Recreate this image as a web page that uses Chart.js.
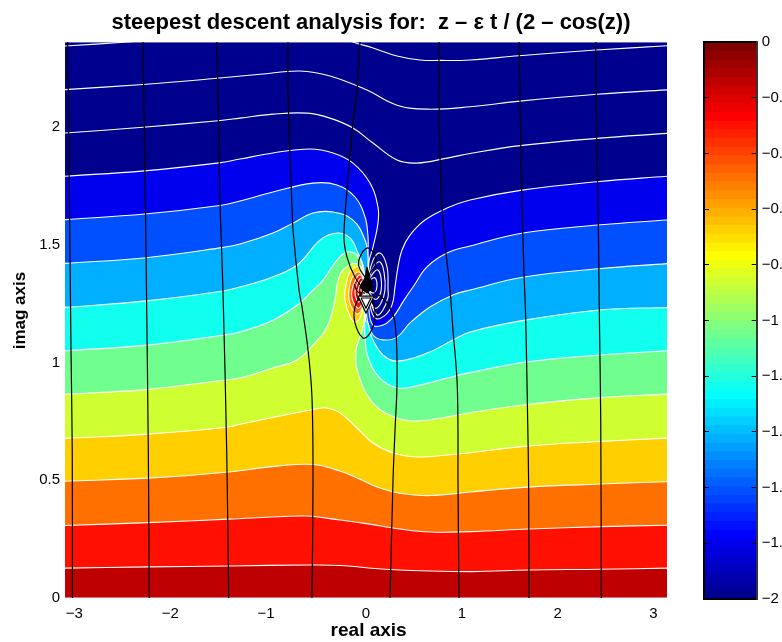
<!DOCTYPE html>
<html><head><meta charset="utf-8">
<style>html,body{margin:0;padding:0;background:#fff;width:782px;height:642px;overflow:hidden}
canvas{position:absolute;top:0}</style>
<script src="https://cdn.jsdelivr.net/npm/chart.js@4"></script>
</head><body>
<canvas id="main" width="742" height="642" style="left:0"></canvas>
<canvas id="bar" width="92" height="642" style="left:690px"></canvas>
<script>
const xMin=-3.1416, xMax=3.1416, yMin=0, yMax=2.3612;
const titleText='steepest descent analysis for:  z \u2013 \u03b5 t / (2 \u2013 cos(z))';
const xLabel=' real axis', yLabel='    imag axis';
const xTicks=[-3,-2,-1,0,1,2,3];
const xTickLabels=['\u22123  ','\u22122  ','\u22121  ','0','1','2','3'];
const yTicks=[0,0.5,1,1.5,2];
const yTickLabels=['0','0.5','1','1.5','2'];
const cbTicks=[0,-0.2,-0.4,-0.6,-0.8,-1,-1.2,-1.4,-1.6,-1.8,-2];
const cbTickLabels=['0','\u22120.2','\u22120.4','\u22120.6','\u22120.8','\u22121','\u22121.2','\u22121.4','\u22121.6','\u22121.8','\u22122'];

// colour bar, bottom to top
const jet=['#00008F','#00009F','#0000AF','#0000BF','#0000CF','#0000DF','#0000EF','#0000FF',
'#0010FF','#0020FF','#0030FF','#0040FF','#0050FF','#0060FF','#0070FF','#0080FF','#008FFF','#009FFF','#00AFFF','#00BFFF','#00CFFF','#00DFFF','#00EFFF','#00FFFF',
'#10FFEF','#20FFDF','#30FFCF','#40FFBF','#50FFAF','#60FF9F','#70FF8F','#80FF80','#8FFF70','#9FFF60','#AFFF50','#BFFF40','#CFFF30','#DFFF20','#EFFF10','#FFFF00',
'#FFEF00','#FFDF00','#FFCF00','#FFBF00','#FFAF00','#FF9F00','#FF8F00','#FF8000','#FF7000','#FF6000','#FF5000','#FF4000','#FF3000','#FF2000','#FF1000','#FF0000',
'#EF0000','#DF0000','#CF0000','#BF0000','#AF0000','#9F0000','#8F0000','#800000'];
const cbStep=0.03125;

// white level curves, bottom to top
const c0x=[-3.1416,3.1416], c0y=[0,0];
const c1x=[-3.1416,-2.276,-1.44,-.585,-.271,.251,1.086,1.701,2.453,3.1416];
const c1y=[.127,.132,.136,.140,.138,.121,.112,.119,.122,.127];
const c2x=[-3.1416,-2.276,-1.44,-.689,-.564,-.271,0,.355,.668,1.086,1.701,2.453,3.1416];
const c2y=[.308,.320,.335,.348,.347,.331,.316,.293,.280,.282,.293,.303,.309];
const c3x=[-3.1416,-2.276,-1.461,-.929,-.553,-.271,-.063,.146,.355,.668,1.086,1.691,2.453,3.1416];
const c3y=[.496,.509,.534,.560,.567,.539,.504,.467,.445,.435,.450,.471,.484,.494];
const c4x=[-3.1416,-2.276,-1.453,-1.315,-.480,-.397,-.271,-.094,.073,.282,.532,.846,1.086,1.681,2.453,3.1416];
const c4y=[.678,.696,.725,.738,.806,.806,.786,.722,.658,.616,.599,.607,.617,.645,.665,.679];
const c5x=[-3.1416,-2.276,-1.465,-1.315,-.971,-.720,-.553,-.407,-.324,-.292,-.240,-.146,-.084,-.031,-.010,-.021,-.063,-.104,-.084,.073,.324,.532,.846,1.086,1.681,2.450,3.1416];
const c5y=[.865,.886,.926,.934,.977,1.011,1.074,1.151,1.265,1.350,1.393,1.418,1.418,1.384,1.265,1.168,1.108,1.053,.955,.828,.764,.752,.769,.787,.822,.851,.866];
const c6x=[-3.1416,-2.283,-1.479,-1.315,-.971,-.689,-.553,-.449,-.303,-.198,-.094,-.031,-.016,-.015,-.010,.021,.146,.334,.564,.846,1.086,1.670,2.443,3.1416];
const c6y=[1.050,1.074,1.117,1.130,1.180,1.253,1.308,1.350,1.435,1.469,1.456,1.401,1.265,1.180,1.108,1.023,.934,.892,.904,.934,.957,1.002,1.032,1.050];
const c7x=[-3.1416,-2.290,-1.493,-1.315,-1.002,-.720,-.480,-.303,-.167,-.084,-.026,0,-.005,.021,.063,.177,.324,.637,.908,1.086,1.660,2.432,3.1416];
const c7y=[1.234,1.262,1.304,1.321,1.359,1.414,1.520,1.550,1.529,1.465,1.406,1.265,1.180,1.168,1.104,1.032,1.006,1.040,1.096,1.130,1.180,1.223,1.234];
const c8x=[-3.1416,-2.296,-1.505,-1.315,-.971,-.762,-.553,-.344,-.136,-.010,.021,.010,.010,.010,.073,.177,.324,.459,.668,.908,1.086,1.650,2.432,3.1416];
const c8y=[1.421,1.445,1.488,1.503,1.550,1.592,1.635,1.639,1.605,1.520,1.448,1.329,1.265,1.189,1.117,1.096,1.108,1.168,1.236,1.287,1.308,1.363,1.398,1.420];
const c9x=[-3.1416,-2.307,-1.524,-1.315,-.971,-.553,-.303,-.115,-.010,.021,.021,.021,.031,.073,.177,.282,.397,.491,.637,.846,1.086,1.639,2.422,3.1416];
const c9y=[1.607,1.631,1.667,1.686,1.724,1.762,1.754,1.703,1.618,1.533,1.465,1.329,1.223,1.159,1.159,1.193,1.265,1.321,1.406,1.465,1.495,1.550,1.584,1.605];
const c10x=[-3.1416,-2.317,-1.534,-1.315,-.971,-.585,-.344,-.136,.042,.125,.125,.073,.031,.031,.042,.094,.188,.271,.303,.334,.376,.459,.616,.846,1.086,1.628,2.411,3.1416];
const c10y=[1.791,1.814,1.848,1.864,1.890,1.907,1.890,1.847,1.762,1.660,1.592,1.490,1.427,1.329,1.244,1.189,1.197,1.244,1.321,1.406,1.478,1.541,1.605,1.656,1.690,1.732,1.768,1.791];
const c11x=[-3.1416,-2.328,-1.545,-1.315,-.971,-.616,-.376,-.136,.073,.324,.532,.846,1.086,1.608,2.411,3.1416];
const c11y=[1.975,1.999,2.027,2.038,2.055,2.059,2.038,1.996,1.932,1.860,1.847,1.868,1.888,1.921,1.952,1.973];
const c12x=[-3.1416,-2.328,-1.555,-1.106,-.689,-.376,.010,.324,.637,1.086,1.608,2.411,3.1416];
const c12y=[2.159,2.181,2.207,2.224,2.238,2.217,2.157,2.093,2.076,2.086,2.110,2.139,2.158];
const c13x=[-3.1416,-2.495,-1.315,-.689,-.271,-.136,.073,.324,.564,.772,1.086,1.597,2.401,3.1416];
const c13y=[2.344,2.361,2.395,2.405,2.385,2.361,2.336,2.302,2.285,2.283,2.285,2.303,2.327,2.345];
const c14x=[-3.1416,3.1416], c14y=[2.3612,2.3612];
const bandColors=['#BF0000','#FF1000','#FF7000','#FFCF00','#CFFF30','#70FF8F','#10FFEF','#00AFFF','#0050FF','#0000EF','#00008F'];

// closed level curves left and right of the pole
const w1x=[0,-.084,-.167,-.209,-.219,-.167,-.104,-.042,0], w1y=[1.338,1.406,1.384,1.329,1.265,1.197,1.172,1.214,1.338];
const w2x=[0,-.073,-.146,-.177,-.177,-.136,-.084,-.031,0], w2y=[1.338,1.384,1.359,1.308,1.265,1.223,1.206,1.244,1.338];
const w3x=[0,-.063,-.115,-.146,-.146,-.115,-.073,-.031,0], w3y=[1.338,1.372,1.346,1.308,1.274,1.244,1.231,1.265,1.338];
const w4x=[0,-.052,-.094,-.115,-.104,-.073,-.031,0], w4y=[1.338,1.359,1.333,1.304,1.274,1.257,1.282,1.338];
const w5x=[0,-.042,-.073,-.084,-.063,-.021,0], w5y=[1.338,1.346,1.321,1.299,1.278,1.295,1.338];
const w6x=[0,-.031,-.052,-.031,0], w6y=[1.333,1.329,1.308,1.295,1.333];
const ringColors=['#FFCF00','#FF7000','#FF1000','#BF0000','#BF0000','#BF0000'];
const n1x=[.010,.073,.146,.219,.230,.230,.177,.115,.042,.010], n1y=[1.338,1.435,1.465,1.406,1.308,1.278,1.223,1.202,1.265,1.338];
const n2x=[.010,.084,.146,.188,.198,.157,.094,.031,.010], n2y=[1.338,1.410,1.427,1.384,1.308,1.253,1.231,1.274,1.338];
const n3x=[.010,.084,.125,.157,.157,.115,.063,.010], n3y=[1.338,1.384,1.393,1.359,1.304,1.270,1.278,1.338];
const n4x=[.010,.073,.104,.115,.094,.052,.010], n4y=[1.338,1.359,1.355,1.325,1.299,1.299,1.338];

// black steepest descent paths
const by=[2.3612,1.609,1.053,.628,0];
const b1x=[-3.114,-3.093,-3.079,-3.066,-3.064];
const b2x=[-2.328,-2.300,-2.290,-2.272,-2.262], b2y=[2.3612,1.609,1.265,.628,0];
const b3x=[-1.555,-1.524,-1.493,-1.454,-1.433], b3y=[2.3612,1.690,1.308,.628,0];
const b4x=[-.814,-.814,-.793,-.772,-.762,-.699,-.668,-.605,-.564,-.553,-.564];
const b4y=[2.3612,2.157,1.873,1.660,1.563,1.308,1.236,1.053,.854,.501,0];
const b5x=[-.063,-.094,-.136,-.198,-.230,-.198,-.115,-.010,.073,.219,.303,.324,.303,.282,.251];
const b5y=[2.3612,2.157,2.017,1.732,1.533,1.448,1.363,1.308,1.304,1.253,1.168,.926,.713,.501,0];
const b6x=[.762,.762,.772,.804,.877,.908,.950,.960,.960,.971];
const b6y=[2.3612,2.157,1.873,1.592,1.308,1.138,.926,.713,.501,0];
const b7x=[1.597,1.608,1.625,1.649,1.667,1.684,1.698,1.701];
const b7y=[2.3612,2.110,1.732,1.380,1.185,.828,.471,0];
const b8x=[2.398,2.408,2.425,2.435,2.450,2.456];
const b8y=[2.3612,1.953,1.584,1.219,.756,0];
const e1x=[.010,-.073,-.063,.010,.073,.104,.042,.010], e1y=[1.350,1.406,1.448,1.486,1.469,1.422,1.380,1.350];
const e2x=[-.031,-.115,-.115,-.031,.042,.094,.073,.021,-.031], e2y=[1.308,1.236,1.168,1.104,1.125,1.193,1.257,1.299,1.308];
const legx=[-.125,-.084,-.010], legy=[1.333,1.299,1.295];
const blobx=[.010,.042,.073,.010,-.063,-.010,.010], bloby=[1.406,1.359,1.320,1.295,1.320,1.359,1.406];
const v1x=[-.084,.084,0,-.084], v1y=[1.282,1.282,1.210,1.282];
const v2x=[-.052,.052,0,-.052], v2y=[1.274,1.274,1.231,1.274];

const pts=(xs,ys)=>xs.map((x,i)=>({x,y:ys[i]}));
const base={showLine:true,pointRadius:0,pointHoverRadius:0};
const black=(xs,ys,extra)=>Object.assign({},base,{data:pts(xs,ys),borderColor:'#000',borderWidth:1.2,tension:0.35,fill:false},extra||{});
const white=(xs,ys,extra)=>Object.assign({},base,{data:pts(xs,ys),borderColor:'#fff',borderWidth:1.1,tension:0.4,fill:false},extra||{});
const band=(xs,ys,i)=>white(xs,ys,{fill:'start',backgroundColor:bandColors[i]});
const ring=(xs,ys,i)=>white(xs,ys,{fill:'shape',backgroundColor:ringColors[i]});

const datasets=[
 black(blobx,bloby,{fill:'shape',backgroundColor:'#000',tension:0}),
 black(v2x,v2y,{tension:0}),
 black(v1x,v1y,{fill:'shape',backgroundColor:'#fff',tension:0}),
 black(legx,legy),
 black(e1x,e1y),black(e2x,e2y),
 black(b1x,by),black(b2x,b2y),black(b3x,b3y),black(b4x,b4y),black(b5x,b5y),black(b6x,b6y),black(b7x,b7y),black(b8x,b8y),
 ring(w6x,w6y,5),ring(w5x,w5y,4),ring(w4x,w4y,3),ring(w3x,w3y,2),ring(w2x,w2y,1),ring(w1x,w1y,0),
 white(n4x,n4y),white(n3x,n3y),white(n2x,n2y),white(n1x,n1y),
 white(c0x,c0y,{borderColor:'#e8e8f0'}),
 band(c1x,c1y,0),band(c2x,c2y,1),band(c3x,c3y,2),band(c4x,c4y,3),band(c5x,c5y,4),band(c6x,c6y,5),
 band(c7x,c7y,6),band(c8x,c8y,7),band(c9x,c9y,8),band(c10x,c10y,9),
 white(c11x,c11y),white(c12x,c12y),white(c13x,c13y),
 white(c14x,c14y,{fill:'start',backgroundColor:bandColors[10],borderColor:'#d8d8ec'})
];
const FONT='"Liberation Sans", Arial, sans-serif';
new Chart(document.getElementById('main'),{
 type:'scatter',
 data:{datasets},
 options:{
  responsive:false,animation:false,devicePixelRatio:1,
  layout:{padding:0},
  plugins:{
   legend:{display:false},tooltip:{enabled:false},
   filler:{drawTime:'beforeDatasetDraw',propagate:false},
   title:{display:true,text:titleText,color:'#000',font:{family:FONT,size:22,weight:'bold',lineHeight:1.2},padding:{top:10,bottom:5.6}}
  },
  scales:{
   x:{type:'linear',min:xMin,max:xMax,grid:{display:false,drawTicks:false},border:{display:false},
      afterBuildTicks:s=>{s.ticks=xTicks.map(value=>({value}));},
      afterFit:s=>{s.height=44;},
      ticks:{autoSkip:false,maxRotation:0,minRotation:0,padding:7,color:'#000',font:{family:FONT,size:15},
        callback:(v)=>xTickLabels[xTicks.indexOf(v)]},
      title:{display:true,text:xLabel,color:'#000',font:{family:FONT,size:19,weight:'bold',lineHeight:1.2},padding:{top:0,bottom:0}}},
   y:{type:'linear',min:yMin,max:yMax,grid:{display:false,drawTicks:false},border:{display:false},
      afterBuildTicks:s=>{s.ticks=yTicks.map(value=>({value}));},
      afterFit:s=>{s.width=65;},
      ticks:{autoSkip:false,padding:5,color:'#000',font:{family:FONT,size:15},
        callback:(v)=>yTickLabels[yTicks.indexOf(v)]},
      title:{display:true,text:yLabel,color:'#000',font:{family:FONT,size:17,weight:'bold',lineHeight:1.2},padding:{top:10,bottom:0}}},
   yRightSpacer:{type:'linear',position:'right',min:yMin,max:yMax,grid:{display:false,drawTicks:false},border:{display:false},
      ticks:{display:false},afterFit:s=>{s.width=75;}}
  }
 }
});

// colour bar: each bar reaches from the top of the scale down to its band's lower edge
const n=jet.length;
const barSets=[];
for(let k=0;k<n;k++){
  barSets.push({data:[[0,-(k+1)*cbStep]],backgroundColor:jet[n-1-k],borderWidth:0,barPercentage:1,categoryPercentage:1,grouped:false,xAxisID:'x',yAxisID:'yr'});
}
const edge={color:'#000',width:2};
new Chart(document.getElementById('bar'),{
 type:'bar',
 data:{labels:['c'],datasets:barSets},
 options:{
  responsive:false,animation:false,devicePixelRatio:1,
  layout:{padding:{top:42,bottom:43,left:0,right:0}},
  plugins:{legend:{display:false},tooltip:{enabled:false}},
  datasets:{bar:{grouped:false}},
  scales:{
   x:{type:'category',position:'bottom',grid:{display:false,drawTicks:false},border:{color:'#000',width:2,z:3},ticks:{display:false},afterFit:s=>{s.height=0;}},
   xt:{type:'category',position:'top',labels:['c'],grid:{display:false,drawTicks:false},border:{color:'#000',width:2,z:3},ticks:{display:false},afterFit:s=>{s.height=0;}},
   yl:{type:'linear',position:'left',min:-2,max:0,border:{color:'#000',width:2,z:3},
      grid:{drawOnChartArea:false,tickLength:-5,color:'#000',tickWidth:1,z:2},
      afterBuildTicks:s=>{s.ticks=cbTicks.map(value=>({value}));},
      afterFit:s=>{s.width=14;},ticks:{display:false}},
   yr:{type:'linear',position:'right',min:-2,max:0,border:{color:'#333',width:2,z:3},
      grid:{drawOnChartArea:false,tickLength:-5,color:'#000',tickWidth:1,z:2},
      afterBuildTicks:s=>{s.ticks=cbTicks.map(value=>({value}));},
      afterFit:s=>{s.width=25.3;},
      ticks:{autoSkip:false,padding:10,color:'#000',font:{family:FONT,size:15},
        callback:(v)=>cbTickLabels[cbTicks.indexOf(v)]}}
  }
 }
});
</script></body></html>
